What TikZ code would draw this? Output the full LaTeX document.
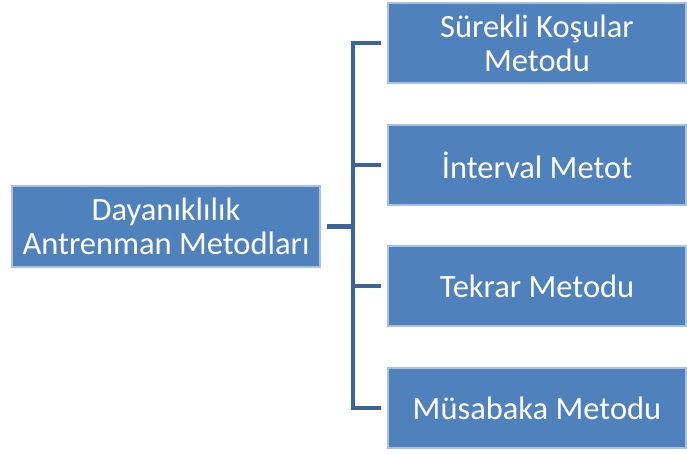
\documentclass[tikz,border=0pt]{standalone}
\usepackage{fontspec}
\setmainfont{Carlito}
\usetikzlibrary{positioning}
\definecolor{boxblue}{HTML}{4F81BD}
\definecolor{edgeblue}{HTML}{A9C0DF}
\definecolor{linkblue}{HTML}{3D6498}

\begin{document}
\begin{tikzpicture}[x=1pt, y=-1pt,
  method/.style={draw=edgeblue, line width=1.2pt, fill=boxblue, text=white,
    minimum width=298pt, minimum height=80pt, align=center, inner sep=0pt,
    font=\fontsize{32.5}{34}\selectfont},
  bracket/.style={draw=linkblue, line width=4.5pt}]
\path (0,0) rectangle (687,453);
\node[method, minimum width=308pt, minimum height=81pt] (main) at (166,226.5) {Dayanıklılık\\Antrenman Metodları};
\node[method] (m1) at (537,43) {Sürekli Koşular\\Metodu};
\node[method] (m2) at (537,165) {İnterval Metot};
\node[method] (m3) at (537,286) {Tekrar Metodu};
\node[method] (m4) at (537,408) {Müsabaka Metodu};
\coordinate (spine) at (353,226.5);
\draw[bracket] ([xshift=6pt]main.east) -- (spine);
\draw[bracket] ([xshift=-6pt]m1.west) -| (spine) |- ([xshift=-6pt]m4.west);
\draw[bracket] ([xshift=-6pt]m2.west) -- (spine |- m2.west);
\draw[bracket] ([xshift=-6pt]m3.west) -- (spine |- m3.west);
\end{tikzpicture}
\end{document}
